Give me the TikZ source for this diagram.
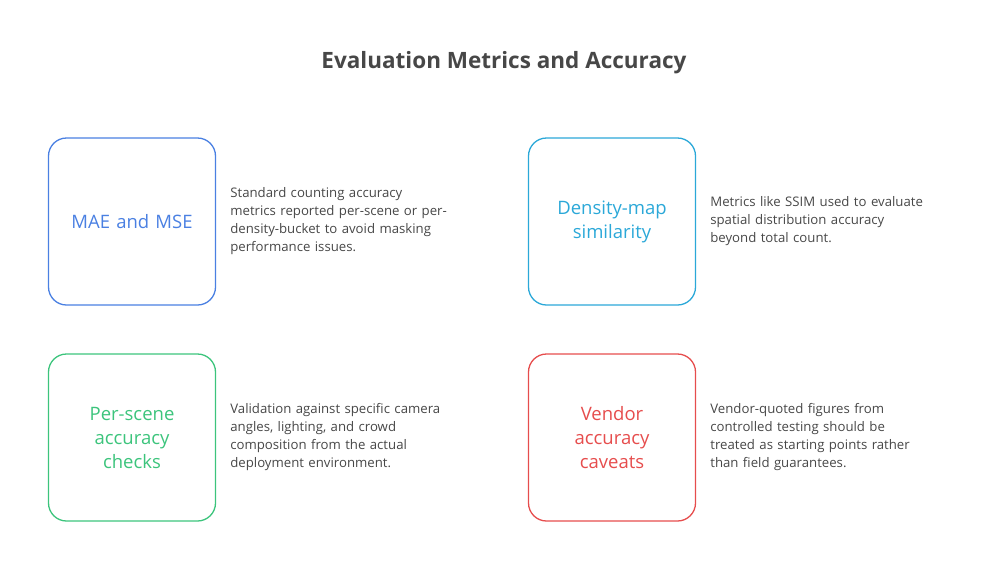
\documentclass[tikz,border=0pt]{standalone}
\usepackage{fontspec}
\setmainfont{Open Sans}
\usetikzlibrary{positioning}
\definecolor{mblue}{HTML}{4A80E2}
\definecolor{mcyan}{HTML}{2BA8D8}
\definecolor{mgreen}{HTML}{3CC47C}
\definecolor{mred}{HTML}{E64D4D}
\definecolor{txt}{HTML}{474747}
\tikzset{metricbox/.style={draw,rounded corners=18pt,line width=1.3pt,minimum width=167pt,minimum height=167pt,align=center,font=\fontsize{18.5}{24}\selectfont,text width=150pt},
    desc/.style={right=14pt of #1,anchor=west,text width=260pt,align=left,font=\fontsize{13.2}{18}\selectfont,text=txt,inner sep=0}}

\begin{document}
\begin{tikzpicture}[x=1pt,y=-1pt]
\useasboundingbox (0,0) rectangle (1008,582);

\node (title) [font=\fontsize{22.5}{26}\bfseries\selectfont,text=txt] at (504,63) {Evaluation Metrics and Accuracy};

\node (b 1) [metricbox,draw=mblue,text=mblue] at (132,221.5) {MAE and MSE};
\node (b 2) [metricbox,draw=mcyan,text=mcyan] at (612,221.5) {Density-map\\similarity};
\node (b 3) [metricbox,draw=mgreen,text=mgreen] at (132,437.5) {Per-scene\\accuracy\\checks};
\node (b 4) [metricbox,draw=mred,text=mred] at (612,437.5) {Vendor\\accuracy\\caveats};

\node (d 1) [desc=b 1] {Standard counting accuracy\\metrics reported per-scene or per-\\density-bucket to avoid masking\\performance issues.};
\node (d 2) [desc=b 2] {Metrics like SSIM used to evaluate\\spatial distribution accuracy\\beyond total count.};
\node (d 3) [desc=b 3] {Validation against specific camera\\angles, lighting, and crowd\\composition from the actual\\deployment environment.};
\node (d 4) [desc=b 4] {Vendor-quoted figures from\\controlled testing should be\\treated as starting points rather\\than field guarantees.};

\end{tikzpicture}
\end{document}
